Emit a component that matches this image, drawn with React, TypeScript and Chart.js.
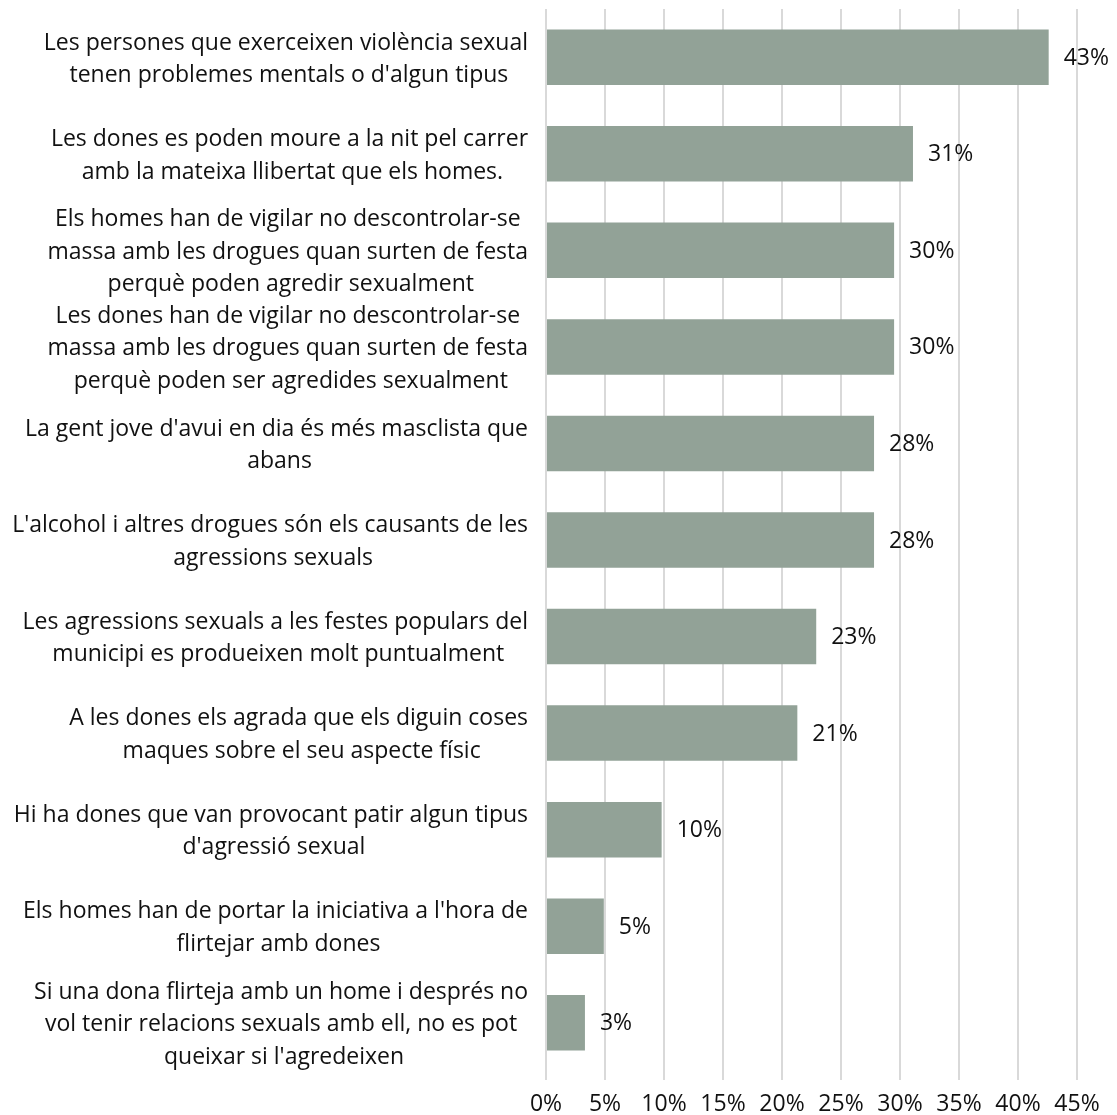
import React, { useEffect, useRef } from "react";
import { Chart, registerables } from "chart.js";

Chart.register(...registerables);

// ---- Data ----
const categoryLines: string[][] = [
  ["Les persones que exerceixen violència sexual", "tenen problemes mentals o d'algun tipus"],
  ["Les dones es poden moure a la nit pel carrer", "amb la mateixa llibertat que els homes."],
  ["Els homes han de vigilar no descontrolar-se", "massa amb les drogues quan surten de festa", "perquè poden agredir sexualment"],
  ["Les dones han de vigilar no descontrolar-se", "massa amb les drogues quan surten de festa", "perquè poden ser agredides sexualment"],
  ["La gent jove d'avui en dia és més masclista que", "abans"],
  ["L'alcohol i altres drogues són els causants de les", "agressions sexuals"],
  ["Les agressions sexuals a les festes populars del", "municipi es produeixen molt puntualment"],
  ["A les dones els agrada que els diguin coses", "maques sobre el seu aspecte físic"],
  ["Hi ha dones que van provocant patir algun tipus", "d'agressió sexual"],
  ["Els homes han de portar la iniciativa a l'hora de", "flirtejar amb dones"],
  ["Si una dona flirteja amb un home i després no", "vol tenir relacions sexuals amb ell, no es pot", "queixar si l'agredeixen"],
];

const values: number[] = [42.6, 31.1, 29.5, 29.5, 27.8, 27.8, 22.9, 21.3, 9.8, 4.9, 3.3];

const xTickValues: number[] = [0, 5, 10, 15, 20, 25, 30, 35, 40, 45];

// ---- Styles ----
const FONT = '"Open Sans", "Noto Sans", "DejaVu Sans", sans-serif';
const TEXT_COLOR = "#111111";
const BAR_COLOR = "#92A297";
const GRID_COLOR = "#D9D9D9";
const FONT_SIZE = 23;
const LINE_H = 32.5;
const LABEL_RIGHT = 534;

const labelsPlugin = {
  id: "customLabels",
  afterDatasetsDraw(chart: any) {
    const ctx = chart.ctx as CanvasRenderingContext2D;
    const yScale = chart.scales.y;
    ctx.save();
    ctx.font = `${FONT_SIZE}px ${FONT}`;
    ctx.fillStyle = TEXT_COLOR;
    ctx.textBaseline = "middle";
    ctx.textAlign = "center";
    categoryLines.forEach((lines, i) => {
      const cy = yScale.getPixelForValue(i);
      const full = lines.map((l, j) => (j < lines.length - 1 ? l + " " : l));
      const bw = Math.max(...full.map((l) => ctx.measureText(l).width));
      const cx = LABEL_RIGHT - bw / 2;
      full.forEach((l, j) => {
        ctx.fillText(l, cx, cy + (j - (lines.length - 1) / 2) * LINE_H + 2);
      });
    });
    const meta = chart.getDatasetMeta(0);
    ctx.textAlign = "left";
    meta.data.forEach((bar: any, i: number) => {
      ctx.fillText(Math.round(values[i]) + "%", bar.x + 15, bar.y + 1);
    });
    ctx.restore();
  },
};

export default function App() {
  const canvasRef = useRef<HTMLCanvasElement | null>(null);

  useEffect(() => {
    if (!canvasRef.current) return;
    const chart = new Chart(canvasRef.current, {
      type: "bar",
      data: {
        labels: categoryLines.map((l) => l.join(" ")),
        datasets: [
          {
            data: values,
            backgroundColor: BAR_COLOR,
            borderWidth: 0,
            categoryPercentage: 1,
            barPercentage: 0.575,
          },
        ],
      },
      options: {
        indexAxis: "y",
        responsive: false,
        animation: false,
        events: [],
        layout: { padding: { left: 546, top: 9, right: 40, bottom: 0 } },
        plugins: {
          legend: { display: false },
          tooltip: { enabled: false },
          title: { display: false },
        },
        scales: {
          y: {
            display: false,
          },
          x: {
            min: 0,
            max: 45,
            afterBuildTicks: (scale: any) => {
              scale.ticks = xTickValues.map((v) => ({ value: v }));
            },
            afterFit: (scale: any) => {
              scale.height = 44;
            },
            ticks: {
              stepSize: 5,
              callback: (v: any) => v + "%",
              font: { family: FONT, size: FONT_SIZE },
              color: TEXT_COLOR,
              padding: 11,
              maxRotation: 0,
              autoSkip: false,
            },
            grid: {
              color: GRID_COLOR,
              lineWidth: 2,
              drawTicks: true,
              tickLength: 9,
              tickColor: GRID_COLOR,
            },
            border: { display: false },
          },
        },
      },
      plugins: [labelsPlugin],
    });
    if ((document as any).fonts && (document as any).fonts.load) {
      (document as any).fonts.load(`${FONT_SIZE}px "Open Sans"`).then(() => {
        try { chart.update(); } catch (e) {}
      });
    }
    return () => chart.destroy();
  }, []);

  return (
    <div style={{ position: "fixed", left: 0, top: 0, width: 1117, height: 1115, background: "#fff" }}>
      <canvas ref={canvasRef} width={1117} height={1115} style={{ width: 1117, height: 1115 }} />
    </div>
  );
}
